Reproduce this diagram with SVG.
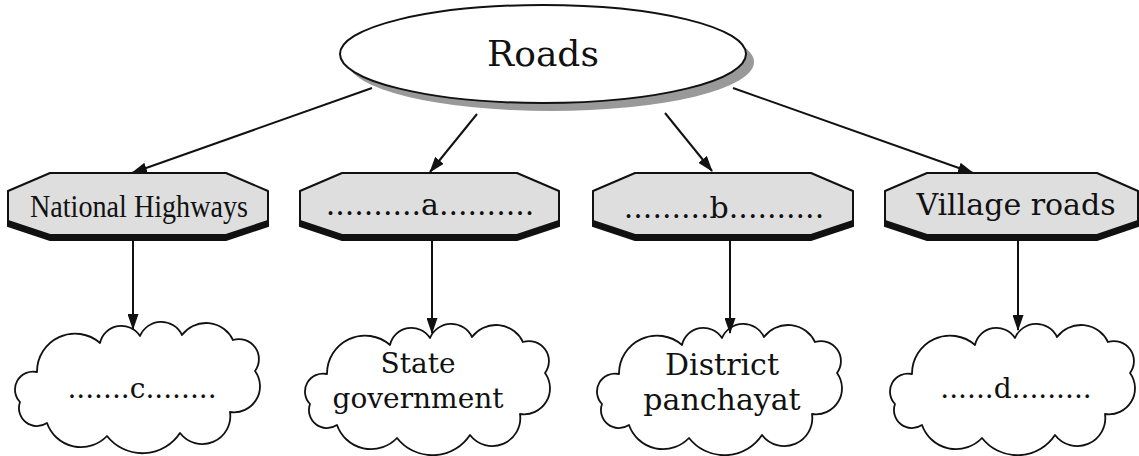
<svg xmlns="http://www.w3.org/2000/svg" xmlns:xlink="http://www.w3.org/1999/xlink" width="1139" height="456" viewBox="0 0 1139 456">
<style>
.oct{fill:#dedede;stroke:#111;stroke-width:2;stroke-linejoin:round}
.octsh{fill:#111;stroke:#111;stroke-width:2}
.cloud{fill:#fff;stroke:#111;stroke-width:1.8;stroke-linejoin:round}
.t{font-family:"DejaVu Serif","Liberation Serif",serif;fill:#111;text-anchor:middle}
.conn{stroke:#111;stroke-width:2;fill:none;marker-end:url(#ah)}
</style>
<defs>
<marker id="ah" markerUnits="userSpaceOnUse" markerWidth="16" markerHeight="11" refX="15" refY="5.5" orient="auto">
<path d="M0,0 L16,5.5 L0,11 Z" fill="#111"/>
</marker>
<path id="cloud" d="M5,79 A18,18 0 0 1 22,49 A38,38 0 0 1 85,20 A22,22 0 0 1 125,13 A23,23 0 0 1 167,12 A30,30 0 0 1 218,17 A20,20 0 0 1 240,48 A26,26 0 0 1 215,89 A28,28 0 0 1 165,110 A45,45 0 0 1 92,113 A36,36 0 0 1 32,100 A18,18 0 0 1 5,79 Z"/>
</defs>
<rect width="1139" height="456" fill="#fff"/>

<g id="roads">
<ellipse cx="551" cy="62" rx="203" ry="49" fill="#999"/>
<ellipse cx="543" cy="54" rx="203" ry="49" fill="#fff" stroke="#111" stroke-width="2"/>
<text class="t" x="543" y="66" font-size="36">Roads</text>
</g>

<g id="national-highways">
<polygon class="octsh" points="50,178 226,178 268,196 268,226 226,240 50,240 8,226 8,196"/>
<polygon class="oct" points="50,173 226,173 268,191 268,221 226,235 50,235 8,221 8,191"/>
<text x="139" y="217" font-family="Liberation Serif, serif" font-size="31" fill="#111" text-anchor="middle" textLength="218" lengthAdjust="spacingAndGlyphs">National Highways</text>
</g>

<g id="node-a">
<polygon class="octsh" points="342,178 517,178 559,196 559,226 517,240 342,240 300,226 300,196"/>
<polygon class="oct" points="342,173 517,173 559,191 559,221 517,235 342,235 300,221 300,191"/>
<text class="t" x="430" y="215" font-size="30">..........a..........</text>
</g>

<g id="node-b">
<polygon class="octsh" points="635,178 811,178 853,196 853,226 811,240 635,240 593,226 593,196"/>
<polygon class="oct" points="635,173 811,173 853,191 853,221 811,235 635,235 593,221 593,191"/>
<text class="t" x="724" y="218" font-size="30">.........b..........</text>
</g>

<g id="village-roads">
<polygon class="octsh" points="927,178 1097,178 1138,196 1138,226 1097,240 927,240 885,226 885,196"/>
<polygon class="oct" points="927,173 1097,173 1138,191 1138,221 1097,235 927,235 885,221 885,191"/>
<text class="t" x="1016" y="215" font-size="30">Village roads</text>
</g>

<g id="cloud-c">
<use xlink:href="#cloud" href="#cloud" class="cloud" transform="translate(15,323)"/>
<text class="t" x="142" y="398" font-size="28">.......c........</text>
</g>

<g id="cloud-state">
<use xlink:href="#cloud" href="#cloud" class="cloud" transform="translate(305,325)"/>
<text class="t" x="418" y="373" font-size="28">State</text>
<text class="t" x="418" y="408" font-size="28">government</text>
</g>

<g id="cloud-district">
<use xlink:href="#cloud" href="#cloud" class="cloud" transform="translate(597,325)"/>
<text class="t" x="722" y="375" font-size="30">District</text>
<text class="t" x="722" y="410" font-size="30">panchayat</text>
</g>

<g id="cloud-d">
<use xlink:href="#cloud" href="#cloud" class="cloud" transform="translate(890,325)"/>
<text class="t" x="1016" y="398" font-size="28">......d.........</text>
</g>

<g id="connectors">
<line class="conn" x1="372" y1="88" x2="132" y2="173"/>
<line class="conn" x1="477" y1="114" x2="430" y2="172"/>
<line class="conn" x1="665" y1="113" x2="712" y2="171"/>
<line class="conn" x1="733" y1="88" x2="973" y2="173"/>
<line class="conn" x1="133" y1="241" x2="133" y2="329"/>
<line class="conn" x1="432" y1="241" x2="432" y2="333"/>
<line class="conn" x1="730" y1="241" x2="730" y2="333"/>
<line class="conn" x1="1018" y1="241" x2="1018" y2="330"/>
</g>
</svg>
